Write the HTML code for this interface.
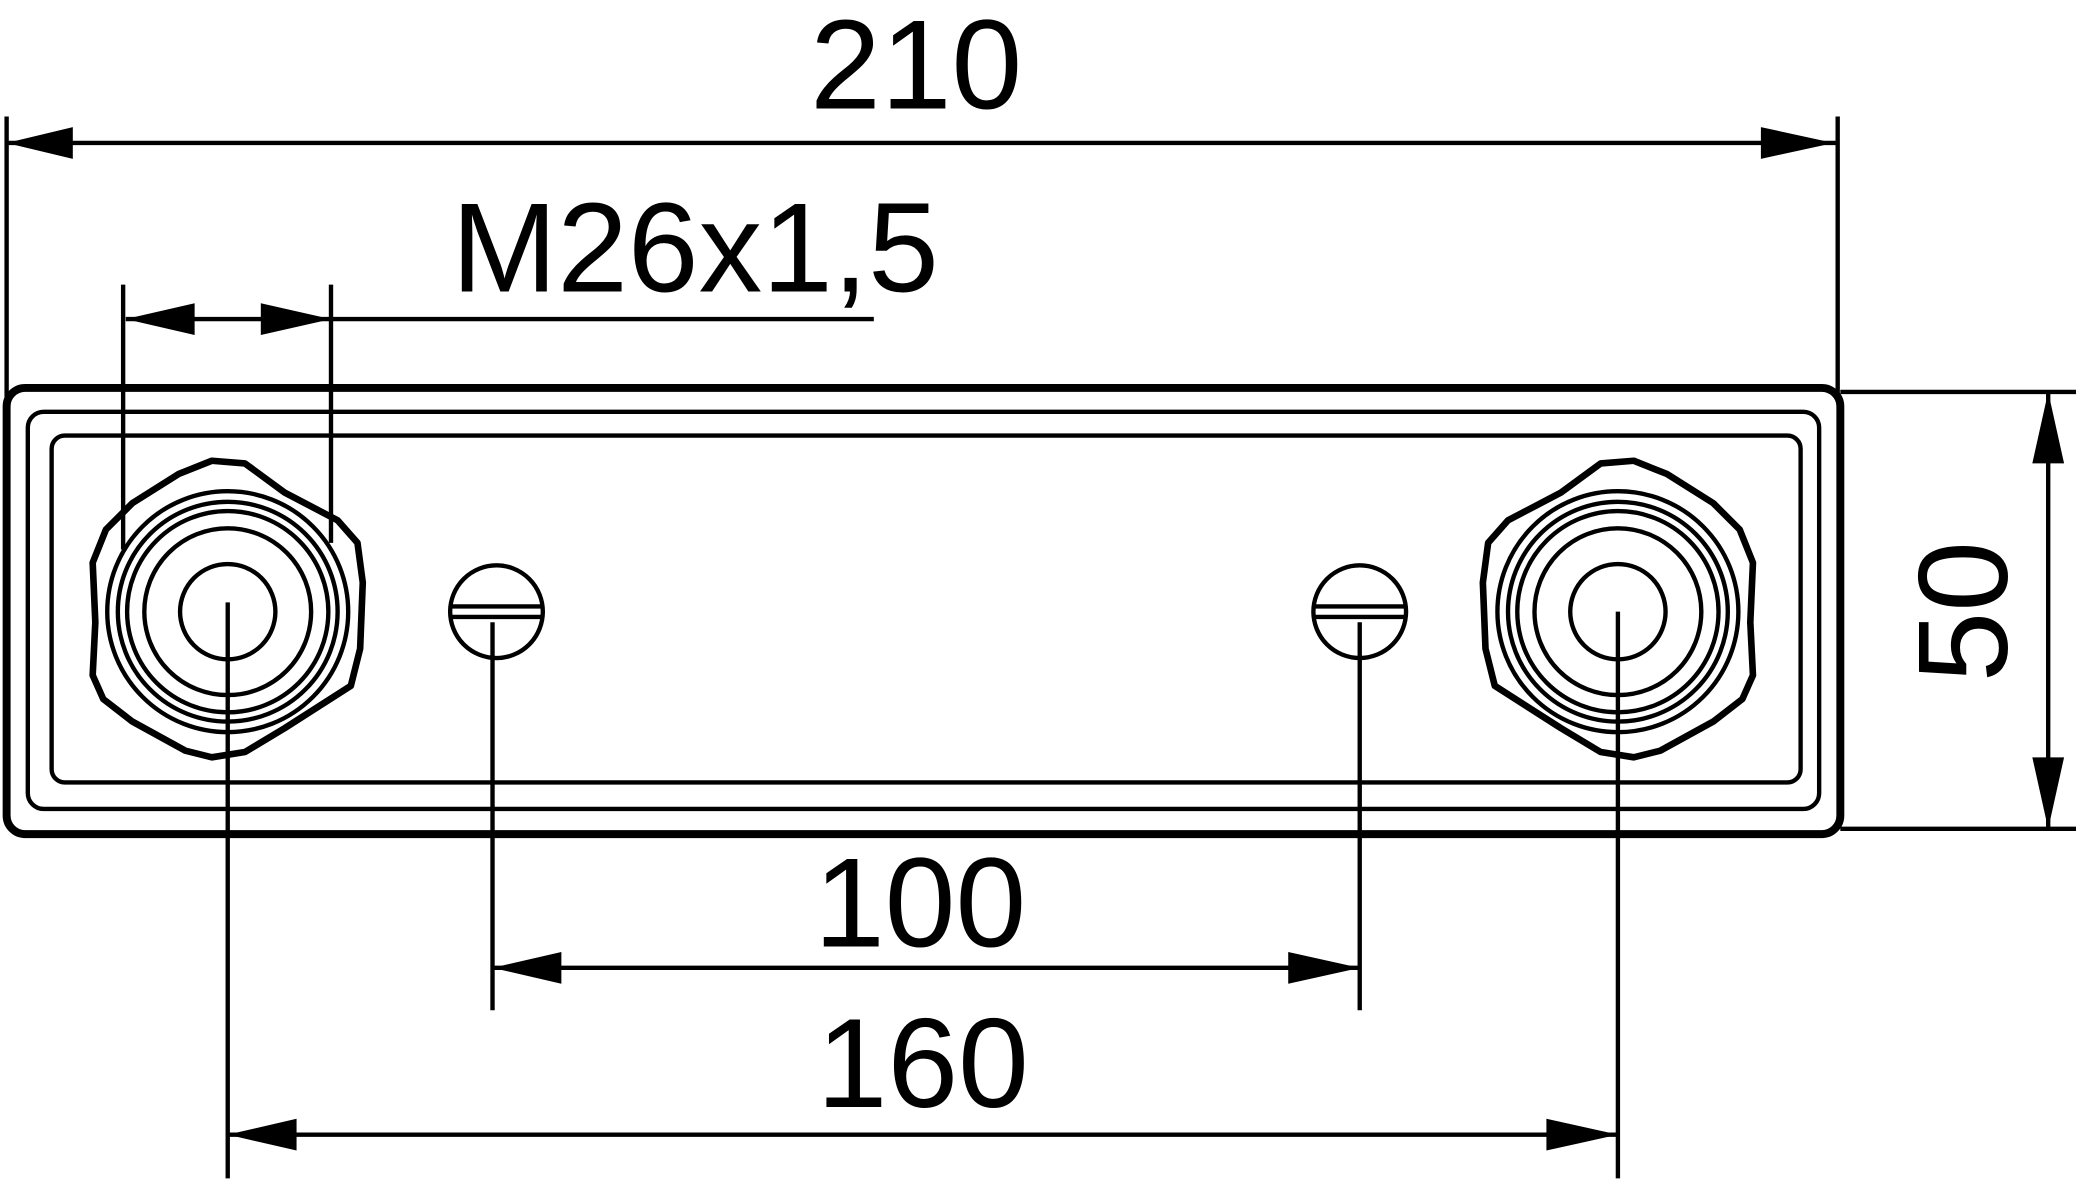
<!DOCTYPE html>
<html><head><style>html,body{margin:0;padding:0;background:#fff}svg{display:block}</style></head>
<body>
<svg width="2076" height="1181" viewBox="0 0 1568 892" preserveAspectRatio="none" xmlns="http://www.w3.org/2000/svg">
<g fill="none" stroke="#000" stroke-width="3.3" stroke-linejoin="round">
<rect x="5" y="293" width="1385" height="337" rx="14" stroke-width="6"/>
<rect x="21" y="311" width="1353" height="300" rx="12"/>
<rect x="39" y="329" width="1321" height="262" rx="10"/>
<line x1="5" y1="88" x2="5" y2="300"/>
<line x1="1388" y1="88" x2="1388" y2="300"/>
<line x1="93" y1="215" x2="93" y2="415"/>
<line x1="250" y1="215" x2="250" y2="410"/>
<line x1="1390" y1="296" x2="1568" y2="296"/>
<line x1="1390" y1="626" x2="1568" y2="626"/>
<line x1="172" y1="455" x2="172" y2="890"/>
<line x1="1222" y1="462" x2="1222" y2="890"/>
<line x1="372" y1="470" x2="372" y2="763"/>
<line x1="1027" y1="470" x2="1027" y2="763"/>
<line x1="5" y1="108" x2="1388" y2="108"/>
<line x1="95" y1="241" x2="660" y2="241"/>
<line x1="1547" y1="296" x2="1547" y2="626"/>
<line x1="372" y1="731" x2="1027" y2="731"/>
<line x1="172" y1="857" x2="1222" y2="857"/>
<g>
<path d="M160,348 L185,350 L215,372 L255,393 L270,410 L274,440 L272,490 L265,518 L215,550 L185,568 L160,572 L140,567 L100,545 L78,528 L70,510 L72,470 L70,425 L80,400 L100,380 L135,358 Z" stroke-width="5"/>
<circle cx="172" cy="462" r="91"/>
<circle cx="172" cy="462" r="83"/>
<circle cx="172" cy="462" r="76"/>
<circle cx="172" cy="462" r="63"/>
<circle cx="172" cy="462" r="36"/>
</g>
<g transform="translate(1394,0) scale(-1,1)">
<path d="M160,348 L185,350 L215,372 L255,393 L270,410 L274,440 L272,490 L265,518 L215,550 L185,568 L160,572 L140,567 L100,545 L78,528 L70,510 L72,470 L70,425 L80,400 L100,380 L135,358 Z" stroke-width="5"/>
<circle cx="172" cy="462" r="91"/>
<circle cx="172" cy="462" r="83"/>
<circle cx="172" cy="462" r="76"/>
<circle cx="172" cy="462" r="63"/>
<circle cx="172" cy="462" r="36"/>
</g>
<circle cx="375" cy="462" r="35"/>
<line x1="341" y1="458" x2="409" y2="458"/><line x1="341" y1="466" x2="409" y2="466"/>
<circle cx="1027" cy="462" r="35"/>
<line x1="993" y1="458" x2="1061" y2="458"/><line x1="993" y1="466" x2="1061" y2="466"/>
</g>
<g fill="#000">
<polygon points="5,108 55,96 55,120"/>
<polygon points="1385,108 1330,96 1330,120"/>
<polygon points="95,241 147,229 147,253"/>
<polygon points="250,241 197,229 197,253"/>
<polygon points="1547,296 1535,350 1559,350"/>
<polygon points="1547,626 1535,572 1559,572"/>
<polygon points="372,731 424,719 424,743"/>
<polygon points="1027,731 973,719 973,743"/>
<polygon points="172,857 224,845 224,869"/>
<polygon points="1222,857 1168,845 1168,869"/>
</g>
<g font-family="Liberation Sans, sans-serif" font-size="96" fill="#000" text-anchor="middle">
<text x="692" y="82">210</text>
<text x="525" y="220">M26x1,5</text>
<text x="695" y="715">100</text>
<text x="697" y="836">160</text>
<text transform="translate(1516,462) rotate(-90)">50</text>
</g>
</svg>
</body></html>
